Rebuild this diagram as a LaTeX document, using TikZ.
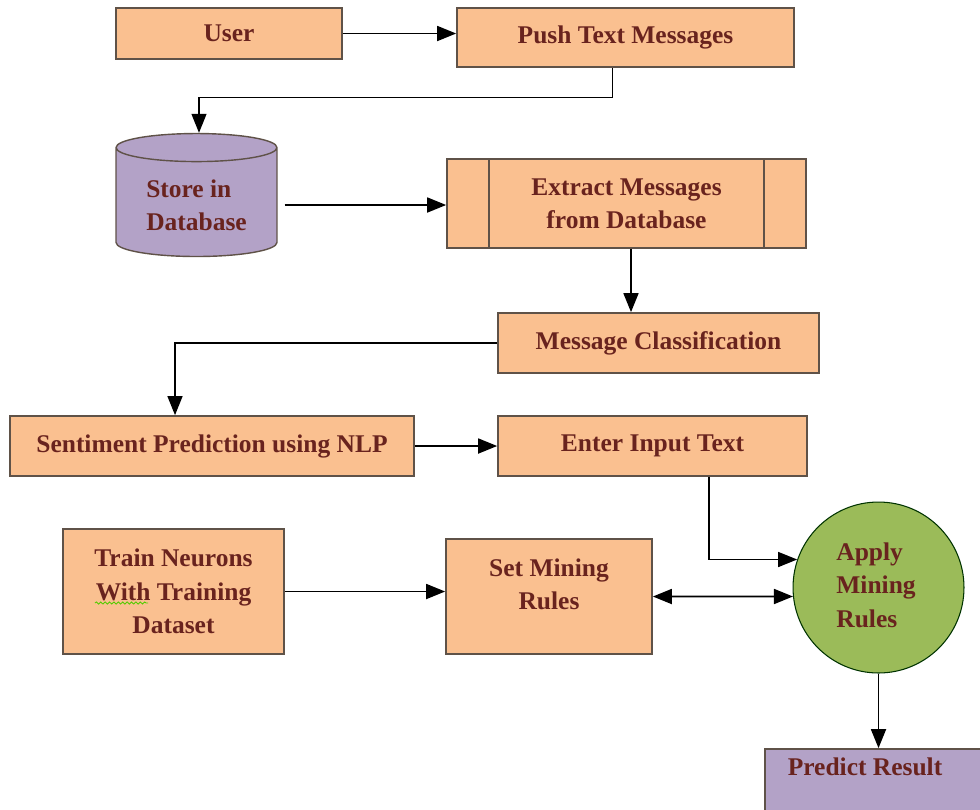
\documentclass[tikz,border=0pt]{standalone}
\usepackage{fontspec}
\setmainfont{Liberation Serif}
\usetikzlibrary{arrows.meta, shapes.geometric, decorations.pathmorphing}
\definecolor{boxorange}{RGB}{250,192,144}
\definecolor{boxpurple}{RGB}{179,162,199}
\definecolor{boxgreen}{RGB}{155,187,89}
\definecolor{boxline}{RGB}{95,82,72}
\definecolor{txtred}{RGB}{105,35,30}

\tikzset{
  lbl/.style={text=txtred, align=center, font=\bfseries\fontsize{14.5}{19}\selectfont},
  box/.style={lbl, draw=boxline, line width=1pt, fill=boxorange},
  dbase/.style={lbl, cylinder, shape border rotate=90, aspect=0.25, draw=boxline,
    line width=0.8pt, fill=boxpurple, align=left},
  flow/.style={line width=1pt, ->},
}

\begin{document}
\begin{tikzpicture}[x=0.02cm, y=-0.02cm, >={Triangle[length=0.38cm,width=0.3cm]}]
\useasboundingbox (0,0) rectangle (980,809);
\clip (0,0) rectangle (980,809);

% row by row, positions in px from the top left corner
\node[box, minimum width=4.52cm, minimum height=1.02cm] (user) at (229,33.5) {User};
\node[box, minimum width=6.74cm, minimum height=1.18cm] (push) at (625.5,37.5) {Push Text Messages};
\node[dbase, minimum width=3.22cm, minimum height=2.46cm] (db) at (196.5,205) {Store in\\Database};
\node[box, minimum width=7.18cm, minimum height=1.78cm] (ext) at (626.5,203.5) {Extract Messages\\from Database};
\draw[boxline, line width=1pt] ([xshift=0.86cm]ext.north west) -- ([xshift=0.86cm]ext.south west)
  ([xshift=-0.86cm]ext.north east) -- ([xshift=-0.86cm]ext.south east);
\node[box, minimum width=6.42cm, minimum height=1.2cm] (msg) at (658.5,343) {Message Classification};
\node[box, minimum width=8.08cm, minimum height=1.2cm] (senti) at (212,446) {Sentiment Prediction using NLP};
\node[box, minimum width=6.18cm, minimum height=1.2cm] (enter) at (652.5,446) {Enter Input Text};
\node[box, minimum width=4.42cm, minimum height=2.5cm] (train) at (173.5,591.5) {Train Neurons\\With Training\\Dataset};
\draw[green!60!yellow!80!black, line width=0.5pt, decorate,
  decoration={snake, amplitude=0.6pt, segment length=2.5pt}] (95,603) -- (148,603);
\node[box, minimum width=4.12cm, minimum height=2.3cm] (rules) at (549,596.5) {};
\node[lbl] (rules-txt) at (549,584) {Set Mining\\Rules};
\node[circle, draw=black!80!green, line width=0.6pt, fill=boxgreen, minimum size=3.42cm] (apply) at (878.5,587.5) {};
\node[lbl, align=left] (apply-txt) at (876,585) {Apply\\Mining\\Rules};
\node[box, fill=boxpurple, minimum width=4.5cm, minimum height=1.44cm] (pred) at (877.5,785) {};
\node[lbl] (pred-txt) at (865,767) {Predict Result};

% connectors
\draw[flow] (user.east) -- (user.east -| push.west);
\draw[flow, line width=0.7pt] ([xshift=-0.26cm]push.south) -- ++(0,30) -| ([xshift=0.05cm]db.north);
\draw[flow] ([xshift=0.14cm]db.east) -- (db.east -| ext.west);
\draw[flow] ([xshift=0.09cm]ext.south) -- ([xshift=0.09cm]ext.south |- msg.north);
\draw[flow, line width=0.8pt] (msg.west) -| ([xshift=-0.74cm]senti.north);
\draw[flow] (senti.east) -- (enter.west);
\draw[flow, line width=0.8pt] ([xshift=1.13cm]enter.south) |- (apply.161);
\draw[flow] (train.east) -- (train.east -| rules.west);
\draw[line width=1pt, <->] (rules.east) -- (apply.186);
\draw[flow] (apply.south) -- (apply.south |- pred.north);
\end{tikzpicture}
\end{document}
